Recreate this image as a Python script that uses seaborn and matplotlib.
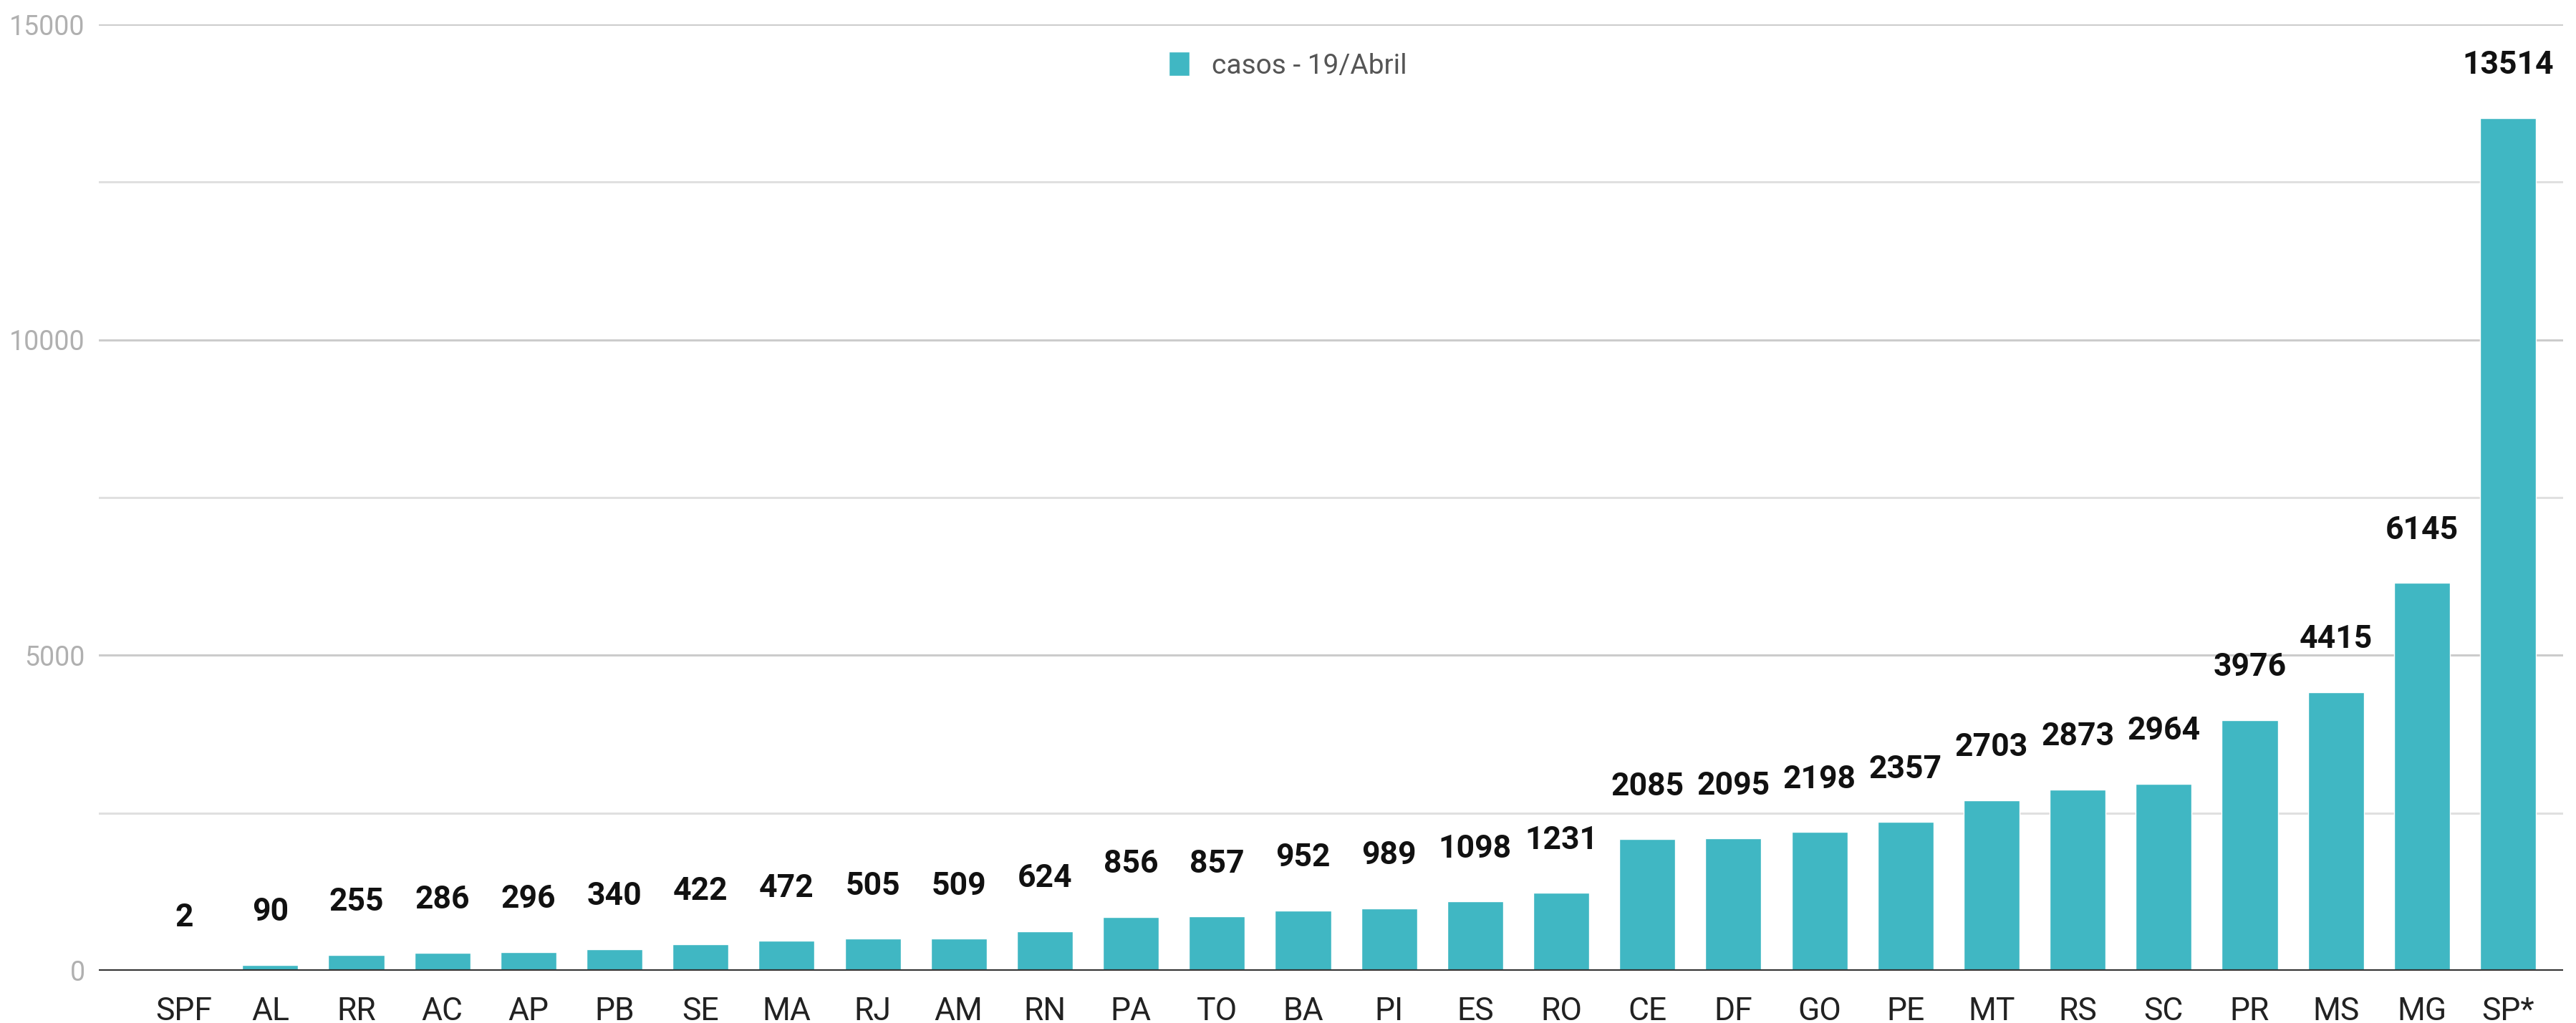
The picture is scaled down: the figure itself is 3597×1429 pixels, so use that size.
import pandas as pd
import seaborn as sns
import matplotlib.pyplot as plt

# Data
estados = ['SPF', 'AL', 'RR', 'AC', 'AP', 'PB', 'SE', 'MA', 'RJ', 'AM', 'RN', 'PA', 'TO', 'BA',
           'PI', 'ES', 'RO', 'CE', 'DF', 'GO', 'PE', 'MT', 'RS', 'SC', 'PR', 'MS', 'MG', 'SP*']
casos = [2, 90, 255, 286, 296, 340, 422, 472, 505, 509, 624, 856, 857, 952,
         989, 1098, 1231, 2085, 2095, 2198, 2357, 2703, 2873, 2964, 3976, 4415, 6145, 13514]
serie = 'casos - 19/Abril'
y_ticks = [0, 5000, 10000, 15000]
y_minor = [2500, 7500, 12500]

BAR = '#40b7c3'

df = pd.DataFrame({'estado': estados, 'casos': casos})

sns.set_style('white')
plt.rcParams['font.family'] = ['Roboto', 'DejaVu Sans']

fig = plt.figure(figsize=(35.97, 14.29), dpi=100)
ax = fig.add_axes([0.0384, 0.0511, 0.9566, 0.9251])

sns.barplot(data=df, x='estado', y='casos', color=BAR, width=0.65, saturation=1,
            label=serie, ax=ax, zorder=3)

ax.set_xlim(-0.99, 27.64)
ax.set_ylim(0, 15000)
ax.set_yticks(y_ticks)
ax.set_yticks(y_minor, minor=True)
ax.grid(axis='y', which='major', color='#cccccc', lw=2.2, zorder=0)
ax.grid(axis='y', which='minor', color='#e0e0e0', lw=2.2, zorder=0)
ax.axhline(0, color='#333333', lw=3, zorder=4)
for s in ax.spines.values():
    s.set_visible(False)

ax.set_xlabel('')
ax.set_ylabel('')
ax.tick_params(axis='x', length=0, pad=26, labelsize=32, labelcolor='#222222')
ax.tick_params(axis='y', which='both', length=0, pad=14, labelsize=27, labelcolor='#b0b0b0')

# value labels above bars
for i, v in enumerate(casos):
    ax.annotate(str(v), (i, v), xytext=(0, 53), textcoords='offset points',
                ha='center', va='center', fontsize=32, fontweight='bold', color='#111111')

leg = ax.legend(loc='center', bbox_to_anchor=(0.5, 0.936), bbox_transform=fig.transFigure,
                frameon=False, fontsize=28, handlelength=0.75, handleheight=0.95,
                handletextpad=0.8)
for t in leg.get_texts():
    t.set_color('#555555')

fig.savefig('out.png', dpi=100, facecolor='white')
